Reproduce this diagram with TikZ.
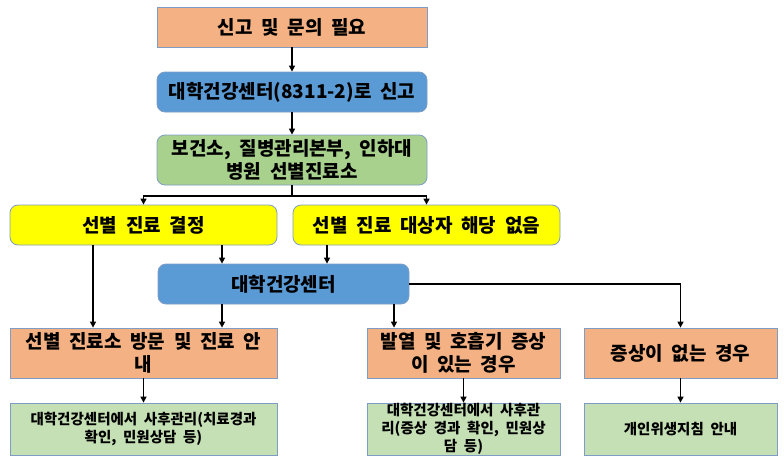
\documentclass[tikz,border=0pt]{standalone}
\usepackage{fontspec}
\setmainfont{Noto Sans CJK KR}[WordSpace=2]
\usepackage{xcolor}
\usepackage{tikz}
\usetikzlibrary{arrows.meta,calc}
\definecolor{ink}{HTML}{000000}
\definecolor{edge}{HTML}{7F9DC4}
\definecolor{cOrg}{HTML}{F4B183}
\definecolor{cBlu}{HTML}{5B9BD5}
\definecolor{cGrn}{HTML}{A9D18E}
\definecolor{cLgr}{HTML}{C5E0B4}
\definecolor{cYlw}{HTML}{FFFF00}
\tikzset{
  blk/.style  = {align=center, text=ink, inner sep=0pt, draw=edge, line width=0.8pt,
                 font=\fontsize{19}{22.5}\selectfont\bfseries},
  org/.style  = {blk, fill=cOrg},
  blu/.style  = {blk, fill=cBlu, rounded corners=8pt},
  grn/.style  = {blk, fill=cGrn, rounded corners=8pt},
  ylw/.style  = {blk, fill=cYlw, rounded corners=8pt},
  lgr/.style  = {blk, fill=cLgr, font=\fontsize{14.5}{18}\selectfont\bfseries},
  ar/.style   = {-{Triangle[length=6pt,width=6pt]}, line width=1.4pt, draw=ink},
  ln/.style   = {line width=1.4pt, draw=ink},
}
\begin{document}
\begin{tikzpicture}[x=1pt, y=-1pt]
  \useasboundingbox (0,0) rectangle (784,466);
  % ---------------- top chain ----------------
  \node[org, minimum width=270pt, minimum height=40pt] (need) at (292,27) {신고 및 문의 필요};
  \node[blu, minimum width=270pt, minimum height=40pt] (rep) at (292,92) {대학건강센터(8311-2)로 신고};
  \node[grn, minimum width=270pt, minimum height=50pt] (clinic) at (292,160) {보건소, 질병관리본부, 인하대\\병원 선별진료소};
  \draw[ar] (need) -- (rep);
  \draw[ar] (rep) -- (clinic);

  % ---------------- decision ----------------
  \node[ylw, minimum width=267pt, minimum height=40pt] (dec) at (143.5,225) {선별 진료 결정};
  \node[ylw, minimum width=267pt, minimum height=40pt] (nodec) at (426.5,225) {선별 진료 대상자 해당 없음};
  \coordinate (split) at (292,196);
  \draw[ln] (clinic.south) -- (split);
  \draw[ar] (split) -| (dec.north);
  \draw[ar] (split) -| (nodec.north);

  % ---------------- health center ----------------
  \node[blu, minimum width=251pt, minimum height=40pt] (hc) at (283.5,284) {대학건강센터};
  \draw[ar] ([xshift=78.5pt]dec.south) -- ([xshift=78.5pt]dec.south |- hc.north);
  \draw[ar] ([xshift=-99.5pt]nodec.south) -- ([xshift=-99.5pt]nodec.south |- hc.north);

  % ---------------- cases ----------------
  \node[org, minimum width=267pt, minimum height=50pt] (visit) at (143.5,353) {선별 진료소 방문 및 진료 안\\내};
  \node[org, minimum width=193pt, minimum height=50pt] (fever) at (463.5,353) {발열 및 호흡기 증상\\이 있는 경우};
  \node[org, minimum width=193pt, minimum height=50pt] (nosym) at (680.5,353) {증상이 없는 경우};
  \draw[ar] ([xshift=-50.5pt]dec.south) -- ([xshift=-50.5pt]visit.north);
  \draw[ar] ([xshift=-61.5pt]hc.south) -- ([xshift=-61.5pt]hc.south |- visit.north);
  \draw[ar] ([xshift=110.5pt]hc.south) -- ([xshift=110.5pt]hc.south |- fever.north);
  \draw[ar] (hc.east) -| (nosym.north);

  % ---------------- follow-up ----------------
  \node[lgr, minimum width=267pt, minimum height=52pt] (care1) at (143.5,429) {대학건강센터에서 사후관리(치료경과\\확인, 민원상담 등)};
  \node[lgr, minimum width=193pt, minimum height=52pt] (care2) at (463.5,429) {대학건강센터에서 사후관\\리(증상 경과 확인, 민원상\\담 등)};
  \node[lgr, minimum width=193pt, minimum height=52pt] (hyg) at (680.5,429) {개인위생지침 안내};
  \draw[ar] (visit) -- (care1);
  \draw[ar] (fever) -- (care2);
  \draw[ar] (nosym) -- (hyg);
\end{tikzpicture}
\end{document}
